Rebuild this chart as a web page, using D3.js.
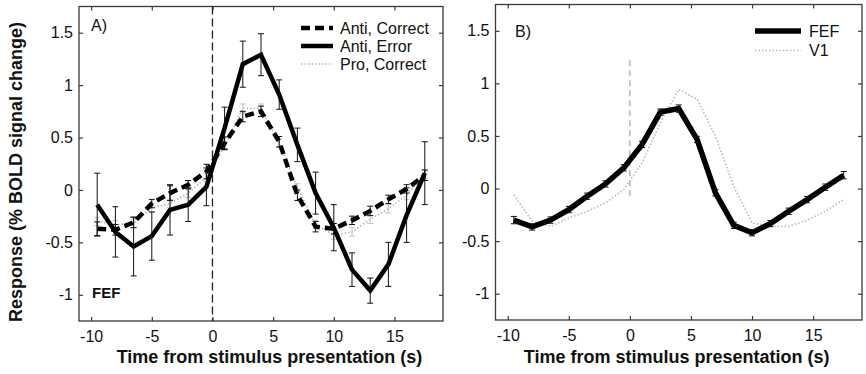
<!DOCTYPE html>
<html>
<head>
<meta charset="utf-8">
<script src="https://cdn.jsdelivr.net/npm/d3@7"></script>
<style>
  html, body { margin: 0; padding: 0; background: #fff; }
  svg { display: block; font-family: "Liberation Sans", Arial, Helvetica, sans-serif; }
</style>
</head>
<body>
<svg id="chart" width="866" height="374"></svg>
<script>
// time points (s), TR = 1.5 s
const times = [-9.5, -8, -6.5, -5, -3.5, -2, -0.5, 1, 2.5, 4, 5.5, 7, 8.5, 10, 11.5, 13, 14.5, 16, 17.5];

// panel A (FEF)
const antiCorrect    = [-0.37, -0.38, -0.31, -0.13, -0.03, 0.05, 0.175, 0.445, 0.70, 0.75, 0.46, -0.05, -0.35, -0.37, -0.29, -0.20, -0.09, 0.01, 0.14];
const antiCorrectErr = [0.065, 0.05, 0.05, 0.04, 0.07, 0.04, 0.07, 0.06, 0.05, 0.05, 0.05, 0.05, 0.05, 0.05, 0.04, 0.045, 0.04, 0.04, 0.05];
const antiError      = [-0.14, -0.40, -0.54, -0.44, -0.19, -0.14, 0.03, 0.59, 1.20, 1.29, 0.91, 0.43, -0.03, -0.36, -0.76, -0.96, -0.71, -0.24, 0.16];
const antiErrorErr   = [0.30, 0.24, 0.28, 0.23, 0.24, 0.16, 0.18, 0.20, 0.22, 0.20, 0.14, 0.16, 0.20, 0.22, 0.16, 0.12, 0.21, 0.26, 0.30];
const proCorrect     = [-0.30, -0.33, -0.32, -0.17, -0.13, -0.03, 0.12, 0.42, 0.78, 0.78, 0.45, 0.02, -0.33, -0.43, -0.40, -0.28, -0.18, -0.05, 0.15];
const proCorrectErr  = [0.04, 0.04, 0.04, 0.04, 0.04, 0.04, 0.04, 0.04, 0.04, 0.04, 0.04, 0.04, 0.04, 0.04, 0.04, 0.04, 0.04, 0.04, 0.04];

// panel B (FEF vs V1)
const fefMean = [-0.30, -0.365, -0.30, -0.20, -0.073, 0.044, 0.197, 0.42, 0.727, 0.76, 0.467, -0.04, -0.35, -0.42, -0.333, -0.216, -0.105, 0.013, 0.127];
const fefErr  = [0.035, 0.03, 0.03, 0.03, 0.03, 0.03, 0.03, 0.03, 0.03, 0.035, 0.03, 0.03, 0.03, 0.03, 0.03, 0.03, 0.03, 0.03, 0.035];
const v1Mean  = [-0.06, -0.31, -0.36, -0.28, -0.216, -0.137, -0.01, 0.244, 0.625, 0.943, 0.85, 0.50, 0.02, -0.327, -0.36, -0.36, -0.30, -0.216, -0.105];

const xTicks = [-10, -5, 0, 5, 10, 15];
const yTicks = [-1, -0.5, 0, 0.5, 1, 1.5];

const svg = d3.select("#chart");
const frameColor = "#3a3a3a";

function makePanel(left, right, top, bottom) {
  const x = d3.scaleLinear().domain([-11, 19]).range([left, right]);
  const y = d3.scaleLinear().domain([-1.25, 1.75]).range([bottom, top]);
  const g = svg.append("g");

  // frame
  g.append("rect")
    .attr("x", left).attr("y", top)
    .attr("width", right - left).attr("height", bottom - top)
    .attr("fill", "none").attr("stroke", frameColor).attr("stroke-width", 1.3);

  // inward ticks on all four sides
  const fmt = d => String(d);
  const axB = g.append("g").attr("transform", `translate(0,${bottom})`)
    .call(d3.axisBottom(x).tickValues(xTicks).tickSize(-4).tickPadding(10).tickFormat(fmt));
  const axT = g.append("g").attr("transform", `translate(0,${top})`)
    .call(d3.axisTop(x).tickValues(xTicks).tickSize(-4).tickFormat(""));
  const axL = g.append("g").attr("transform", `translate(${left},0)`)
    .call(d3.axisLeft(y).tickValues(yTicks).tickSize(-4).tickPadding(6).tickFormat(fmt));
  const axR = g.append("g").attr("transform", `translate(${right},0)`)
    .call(d3.axisRight(y).tickValues(yTicks).tickSize(-4).tickFormat(""));
  [axB, axT, axL, axR].forEach(a => {
    a.select(".domain").remove();
    a.selectAll(".tick line").attr("stroke", frameColor).attr("stroke-width", 1.2);
    a.selectAll(".tick text").attr("fill", "#111").style("font-size", "16px")
      .style("font-family", "Liberation Sans, Arial, sans-serif");
  });

  return { g, x, y };
}

function errorBars(p, means, errs, color, width) {
  const cap = 3;
  const eb = p.g.append("g").attr("stroke", color).attr("stroke-width", width).attr("fill", "none");
  times.forEach((t, i) => {
    const cx = p.x(t), y1 = p.y(means[i] + errs[i]), y2 = p.y(means[i] - errs[i]);
    eb.append("line").attr("x1", cx).attr("x2", cx).attr("y1", y1).attr("y2", y2);
    eb.append("line").attr("x1", cx - cap).attr("x2", cx + cap).attr("y1", y1).attr("y2", y1);
    eb.append("line").attr("x1", cx - cap).attr("x2", cx + cap).attr("y1", y2).attr("y2", y2);
  });
}

function series(p, means, style) {
  const line = d3.line().x((d, i) => p.x(times[i])).y(d => p.y(d));
  p.g.append("path").datum(means)
    .attr("d", line)
    .attr("fill", "none")
    .attr("stroke", style.color)
    .attr("stroke-width", style.width)
    .attr("stroke-dasharray", style.dash || null)
    .attr("stroke-linejoin", "miter")
    .attr("stroke-linecap", style.cap || "butt");
}

const styles = {
  dashed: { color: "#000", width: 4.5, dash: "9,5" },
  solid:  { color: "#000", width: 4.5 },
  dotted: { color: "#b8b8b8", width: 1.6, dash: "1.5,2" },
  thick:  { color: "#000", width: 5.5 }
};

function legend(p, x0, x1, tx, rows) {
  rows.forEach(r => {
    p.g.append("line").attr("x1", x0).attr("x2", x1).attr("y1", r.y).attr("y2", r.y)
      .attr("stroke", r.style.color).attr("stroke-width", r.style.width)
      .attr("stroke-dasharray", r.style.dash || null);
    p.g.append("text").attr("x", tx).attr("y", r.y).attr("dy", "0.36em")
      .style("font-size", "16px").attr("fill", "#111").text(r.label);
  });
}

// ---------- Panel A ----------
const A = makePanel(79, 443, 6.5, 321);

A.g.append("line")
  .attr("x1", A.x(0)).attr("x2", A.x(0)).attr("y1", A.y(1.75)).attr("y2", A.y(-1.25))
  .attr("stroke", "#222").attr("stroke-width", 1.3).attr("stroke-dasharray", "8,4");

series(A, proCorrect, styles.dotted);
errorBars(A, proCorrect, proCorrectErr, "#c4c4c4", 1);
series(A, antiCorrect, styles.dashed);
errorBars(A, antiCorrect, antiCorrectErr, "#111", 1);
series(A, antiError, styles.solid);
errorBars(A, antiError, antiErrorErr, "#111", 1);

A.g.append("text").attr("x", 91).attr("y", 31).style("font-size", "16px").attr("fill", "#111").text("A)");
A.g.append("text").attr("x", 92).attr("y", 298).style("font-size", "15px").style("font-weight", "bold").attr("fill", "#111").text("FEF");

legend(A, 301, 333, 340, [
  { y: 28, style: styles.dashed, label: "Anti, Correct" },
  { y: 46, style: styles.solid, label: "Anti, Error" },
  { y: 64, style: styles.dotted, label: "Pro, Correct" }
]);

svg.append("text")
  .attr("transform", `translate(22,${172}) rotate(-90)`)
  .attr("text-anchor", "middle")
  .style("font-size", "18px").style("font-weight", "bold").attr("fill", "#111")
  .text("Response (% BOLD signal change)");

svg.append("text")
  .attr("x", 269.5).attr("y", 363).attr("text-anchor", "middle")
  .style("font-size", "18px").style("font-weight", "bold").attr("fill", "#111")
  .text("Time from stimulus presentation (s)");

// ---------- Panel B ----------
const B = makePanel(495.5, 862, 4.5, 320);

B.g.append("line")
  .attr("x1", B.x(0)).attr("x2", B.x(0)).attr("y1", B.y(1.22)).attr("y2", B.y(-0.1))
  .attr("stroke", "#777").attr("stroke-width", 0.8).attr("stroke-dasharray", "6,4");

series(B, v1Mean, styles.dotted);
series(B, fefMean, styles.thick);
errorBars(B, fefMean, fefErr, "#111", 1);

B.g.append("text").attr("x", 515).attr("y", 37).style("font-size", "16px").attr("fill", "#111").text("B)");

legend(B, 755, 801, 809, [
  { y: 31, style: styles.thick, label: "FEF" },
  { y: 50.5, style: styles.dotted, label: "V1" }
]);

svg.append("text")
  .attr("x", 676.7).attr("y", 363).attr("text-anchor", "middle")
  .style("font-size", "18px").style("font-weight", "bold").attr("fill", "#111")
  .text("Time from stimulus presentation (s)");
</script>
</body>
</html>
